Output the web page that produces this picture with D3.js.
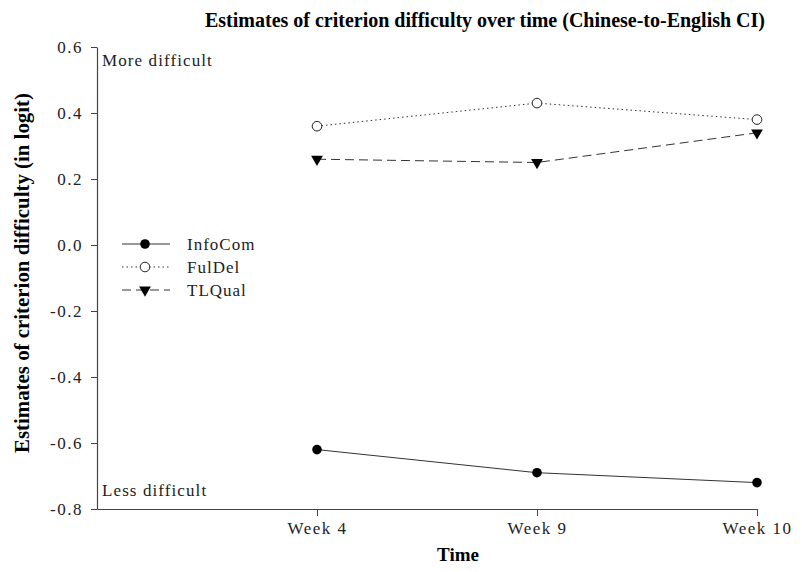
<!DOCTYPE html>
<html>
<head>
<meta charset="utf-8">
<script src="https://cdn.jsdelivr.net/npm/d3@7"></script>
<style>
  body { margin: 0; background: #fff; }
  text { font-family: "Liberation Serif", "Times New Roman", serif; }
</style>
</head>
<body>
<script>
var weeks = ['Week 4', 'Week 9', 'Week 10'];
var infoCom = [-0.62, -0.69, -0.72];
var fulDel = [0.36, 0.43, 0.38];
var tlQual = [0.26, 0.25, 0.34];
var yTicks = [-0.8, -0.6, -0.4, -0.2, 0.0, 0.2, 0.4, 0.6];

var svg = d3.select('body').append('svg')
    .attr('width', 802)
    .attr('height', 572);

var x = d3.scaleLinear()
            .domain([0, 3])
            .range([97, 757]);
var y = d3.scaleLinear()
            .domain([-0.8, 0.6])
            .range([509, 47]);

// axes
var xAxis = d3.axisBottom(x)
    .tickValues([1, 2, 3])
    .tickFormat(function(d) { return weeks[d - 1]; })
    .tickSize(7)
    .tickSizeOuter(0);
var gx = svg.append('g')
    .attr('transform', 'translate(0,' + y(-0.8) + ')')
    .call(xAxis);

var yAxis = d3.axisLeft(y)
    .tickValues(yTicks)
    .tickFormat(function(d) { return d.toFixed(1); })   // plain hyphen, not unicode minus
    .tickSize(6)
    .tickSizeOuter(0);
var gy = svg.append('g')
    .attr('transform', 'translate(' + x(0) + ',0)')
    .call(yAxis);

[gx, gy].forEach(function(g) {
  g.select('.domain').attr('stroke', '#444').attr('stroke-width', 1.2);
  g.selectAll('.tick line').attr('stroke', '#444');
  g.selectAll('.tick text')
    .attr('font-family', '"Liberation Serif", serif')
    .attr('font-size', 17)
    .attr('letter-spacing', 1.5)
    .attr('fill', '#222');
});
gx.selectAll('.tick text').attr('y', 13).attr('dy', '0.71em');
gy.selectAll('.tick text').attr('x', -14);

// series
var series = [
  { name: 'InfoCom', values: infoCom, dash: null, marker: 'filled' },
  { name: 'FulDel', values: fulDel, dash: '1.5,3', marker: 'open' },
  { name: 'TLQual', values: tlQual, dash: '9,5', marker: 'tri' }
];

var line = d3.line()
    .x(function(d, i) { return x(i + 1); })
    .y(function(d) { return y(d); });

function drawMarker(g, kind, cx, cy) {
  if (kind === 'filled') {
    g.append('circle').attr('cx', cx).attr('cy', cy).attr('r', 4.8).attr('fill', '#000');
  } else if (kind === 'open') {
    g.append('circle').attr('cx', cx).attr('cy', cy).attr('r', 4.8)
      .attr('fill', '#fff').attr('stroke', '#222').attr('stroke-width', 1);
  } else {
    g.append('path')
      .attr('d', d3.symbol().type(d3.symbolTriangle).size(60))
      .attr('transform', 'translate(' + cx + ',' + cy + ') rotate(180)')
      .attr('fill', '#000');
  }
}

series.forEach(function(s) {
  svg.append('path')
    .datum(s.values)
    .attr('d', line)
    .attr('fill', 'none')
    .attr('stroke', '#333')
    .attr('stroke-width', 1)
    .attr('stroke-dasharray', s.dash);
  var g = svg.append('g');
  s.values.forEach(function(v, i) { drawMarker(g, s.marker, x(i + 1), y(v)); });
});

// legend
var legend = svg.append('g');
series.forEach(function(s, i) {
  var ly = 244 + i * 23;
  legend.append('line')
    .attr('x1', 122).attr('x2', 170)
    .attr('y1', ly).attr('y2', ly)
    .attr('stroke', '#333')
    .attr('stroke-dasharray', s.dash);
  drawMarker(legend, s.marker, 145, ly);
  legend.append('text')
    .attr('x', 187).attr('y', ly + 6)
    .attr('font-size', 17)
    .attr('letter-spacing', 1.0)
    .attr('fill', '#222')
    .text(s.name);
});

// annotations
svg.append('text').attr('x', 102).attr('y', 66).attr('font-size', 17)
  .attr('letter-spacing', 1.1).attr('fill', '#222').text('More difficult');
svg.append('text').attr('x', 102).attr('y', 496).attr('font-size', 17)
  .attr('letter-spacing', 1.1).attr('fill', '#222').text('Less difficult');

// titles
svg.append('text')
  .attr('x', 485).attr('y', 27)
  .attr('text-anchor', 'middle')
  .attr('font-size', 20)
  .attr('font-weight', 'bold')
  .attr('textLength', 560)
  .attr('lengthAdjust', 'spacingAndGlyphs')
  .text('Estimates of criterion difficulty over time (Chinese-to-English CI)');

svg.append('text')
  .attr('x', 458).attr('y', 561)
  .attr('text-anchor', 'middle')
  .attr('font-size', 19)
  .attr('font-weight', 'bold')
  .text('Time');

svg.append('text')
  .attr('transform', 'translate(29,' + 273 + ') rotate(-90)')
  .attr('text-anchor', 'middle')
  .attr('font-size', 20)
  .attr('font-weight', 'bold')
  .attr('textLength', 360)
  .attr('lengthAdjust', 'spacingAndGlyphs')
  .text('Estimates of criterion difficulty (in logit)');
</script>
</body>
</html>
